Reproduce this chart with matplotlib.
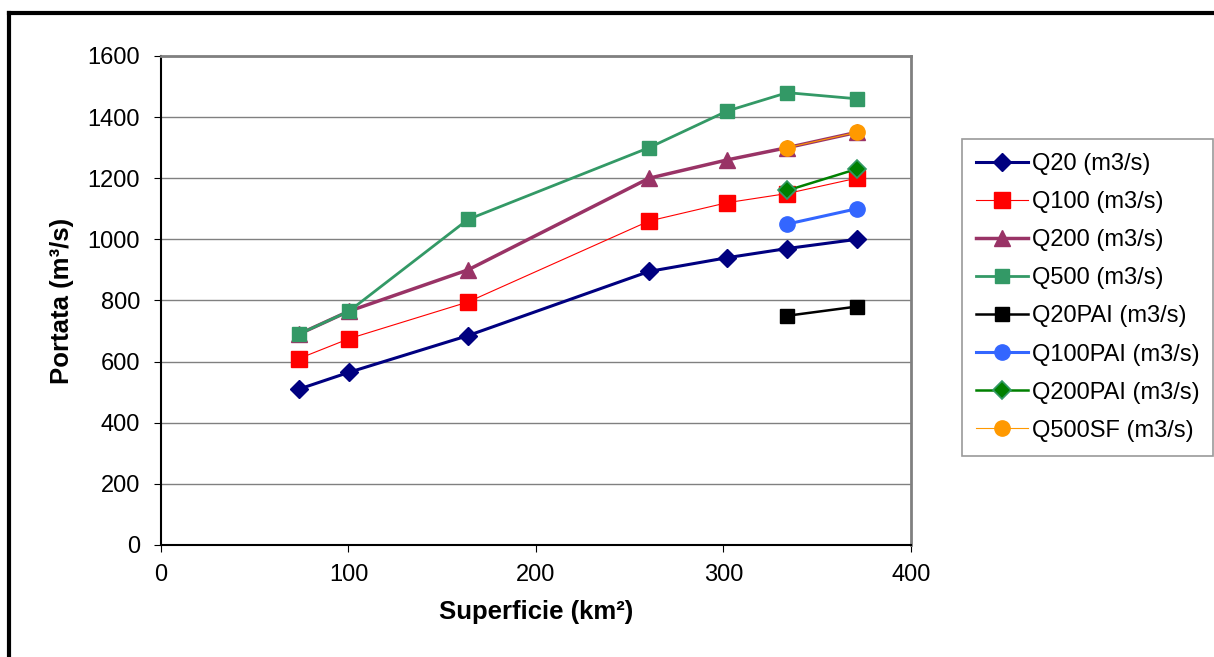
import matplotlib
matplotlib.use("Agg")
import matplotlib.pyplot as plt
from matplotlib.lines import Line2D

plt.rcParams["font.family"] = ["Liberation Sans", "DejaVu Sans"]

superficie = [73.6, 100.3, 163.7, 260.3, 302, 334, 371]
q20 = [510, 565, 685, 895, 940, 970, 1000]
q100 = [610, 675, 795, 1060, 1120, 1150, 1200]
q200 = [690, 765, 900, 1200, 1260, 1300, 1350]
q500 = [690, 765, 1065, 1300, 1420, 1480, 1460]

superficie_pai = [334, 371]
q20pai = [750, 780]
q100pai = [1050, 1100]
q200pai = [1160, 1230]
q500sf = [1300, 1350]

fig = plt.figure(figsize=(12.14, 6.57), dpi=100)
ax = fig.add_axes([0.1326, 0.1705, 0.6178, 0.7443])

ax.plot(superficie, q20, color="#000080", lw=2.2, marker="D", ms=9, label="Q20 (m3/s)")
ax.plot(superficie, q100, color="#FF0000", lw=0.8, marker="s", ms=11,
        markeredgecolor="#FF0000", label="Q100 (m3/s)")
ax.plot(superficie, q200, color="#993366", lw=2.5, marker="^", ms=11, label="Q200 (m3/s)")
ax.plot(superficie, q500, color="#339966", lw=2.0, marker="s", ms=10, label="Q500 (m3/s)")
ax.plot(superficie_pai, q20pai, color="#000000", lw=1.8, marker="s", ms=10, label="Q20PAI (m3/s)")
ax.plot(superficie_pai, q100pai, color="#3366FF", lw=2.2, marker="o", ms=11, label="Q100PAI (m3/s)")
ax.plot(superficie_pai, q200pai, color="#008000", lw=1.8, marker="D", ms=9,
        markeredgecolor="#339966", markeredgewidth=1.2, label="Q200PAI (m3/s)")
ax.plot(superficie_pai, q500sf, color="#FF9900", lw=0.8, marker="o", ms=11, label="Q500SF (m3/s)")

ax.set_xlim(0, 400)
ax.set_ylim(0, 1600)
ax.set_xticks([0, 100, 200, 300, 400])
ax.set_yticks(range(0, 1601, 200))
ax.grid(axis="y", color="#808080", lw=1)
ax.set_axisbelow(True)
ax.tick_params(direction="out", length=5, labelsize=17, color="#000000")
ax.tick_params(axis="y", pad=10)
ax.tick_params(axis="x", pad=9)

for side in ["top", "right"]:
    ax.spines[side].set_color("#808080")
    ax.spines[side].set_linewidth(2)
for side in ["left", "bottom"]:
    ax.spines[side].set_color("#000000")
    ax.spines[side].set_linewidth(1.5)

ax.set_xlabel("Superficie (km²)", fontsize=18.5, fontweight="bold", labelpad=10)
ax.set_ylabel("Portata (m³/s)", fontsize=18.5, fontweight="bold", labelpad=10)

leg = ax.legend(loc="upper left", bbox_to_anchor=(1.068, 0.830), fontsize=17,
                frameon=True, fancybox=False, edgecolor="#808080", borderpad=0.6,
                labelspacing=0.68, handlelength=2.2, handletextpad=0.15, borderaxespad=0)
leg.get_frame().set_linewidth(1.2)

# outer chart frame (left and top edges visible)
fig.add_artist(Line2D([0.0078, 0.0078], [0, 0.98], color="black", lw=3, transform=fig.transFigure))
fig.add_artist(Line2D([0.0078, 1.0], [0.98, 0.98], color="black", lw=3, transform=fig.transFigure))

fig.savefig("out.png", dpi=100, facecolor="white")
